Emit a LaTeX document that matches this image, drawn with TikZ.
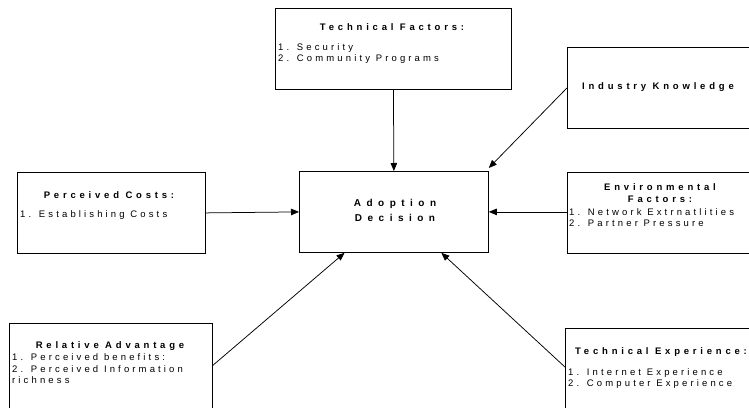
\documentclass[tikz,border=0pt]{standalone}
\usepackage{fontspec}
\setmainfont{Liberation Sans}[LetterSpace=33, BoldFeatures={LetterSpace=40}]
\newfontfamily\widebold{Liberation Sans Bold}[LetterSpace=55]
\usetikzlibrary{arrows.meta,calc}
\begin{document}
\begin{tikzpicture}[x=1pt,y=-1pt,
  box/.style={draw=black, line width=0.8pt, inner sep=0, anchor=north west},
  lbl/.style={inner sep=0, font=\fontsize{9.5}{11.5}\selectfont},
  ttl/.style={inner sep=0, font=\fontsize{9.5}{11.5}\selectfont\bfseries},
  arr/.style={draw=black, line width=0.75pt, -{Triangle[length=8pt,width=6.5pt]}}]
\clip (0,0) rectangle (749,407);
\fill[white] (0,0) rectangle (749,407);
% boxes
\node[box, minimum width=236pt, minimum height=81pt] (tf) at (275,8) {};
\node[box, minimum width=188pt, minimum height=81pt] (ik) at (567,47) {};
\node[box, minimum width=188pt, minimum height=81pt] (pc) at (17,172) {};
\node[box, minimum width=189pt, minimum height=81pt] (ad) at (299,171) {};
\node[box, minimum width=190pt, minimum height=81pt] (ef) at (567,172) {};
\node[box, minimum width=203pt, minimum height=90pt] (ra) at (9,323) {};
\node[box, minimum width=192pt, minimum height=90pt] (te) at (565,328) {};
% texts
\node[ttl] (tft) at (392,27) {Technical Factors:};
\node[lbl, anchor=west] (tf1) at (278,48) {1. Security};
\node[lbl, anchor=west] (tf2) at (278,59) {2. Community Programs};
\node[ttl, anchor=west] (ikt) at (582,87) {Industry Knowledge};
\node[ttl] (pct) at (109,195) {Perceived Costs:};
\node[lbl, anchor=west] (pc1) at (20,215) {1. Establishing Costs};
\node[inner sep=0, align=center, font=\fontsize{10}{15}\selectfont\widebold] (adt) at (395,210.5) {Adoption\\Decision};
\node[ttl, align=center] (eft) at (660,193) {Environmental\\Factors:};
\node[lbl, anchor=west] (ef1) at (569,212) {1. Network Extrnatlities};
\node[lbl, anchor=west] (ef2) at (569,223.5) {2. Partner Pressure};
\node[ttl] (rat) at (110,346) {Relative Advantage};
\node[lbl, anchor=west] (ra1) at (12,357.5) {1. Perceived benefits:};
\node[lbl, anchor=west] (ra2) at (12,369) {2. Perceived Information};
\node[lbl, anchor=west] (ra3) at (12,380.5) {richness};
\node[ttl] (tet) at (661,352) {Technical Experience:};
\node[lbl, anchor=west] (te1) at (568,373) {1. Internet Experience};
\node[lbl, anchor=west] (te2) at (568,384) {2. Computer Experience};
% connectors
\coordinate (adsl) at ($(ad.south west)!0.24!(ad.south east)$);
\coordinate (adsr) at ($(ad.south west)!0.75!(ad.south east)$);
\coordinate (raout) at ($(ra.north east)!0.5!(ra.south east)+(0,-3)$);
\coordinate (teout) at ($(te.north west)!0.43!(te.south west)$);
\draw[arr] (tf.south) -- (ad.north);
\draw[arr] (ik.west) -- ($(ad.north east)+(0,-3)$);
\draw[arr] (pc.east) -- (ad.west);
\draw[arr] (ef.west |- ad.west) -- (ad.east);
\draw[arr] (raout) -- (adsl);
\draw[arr] (teout) -- (adsr);
\end{tikzpicture}
\end{document}
